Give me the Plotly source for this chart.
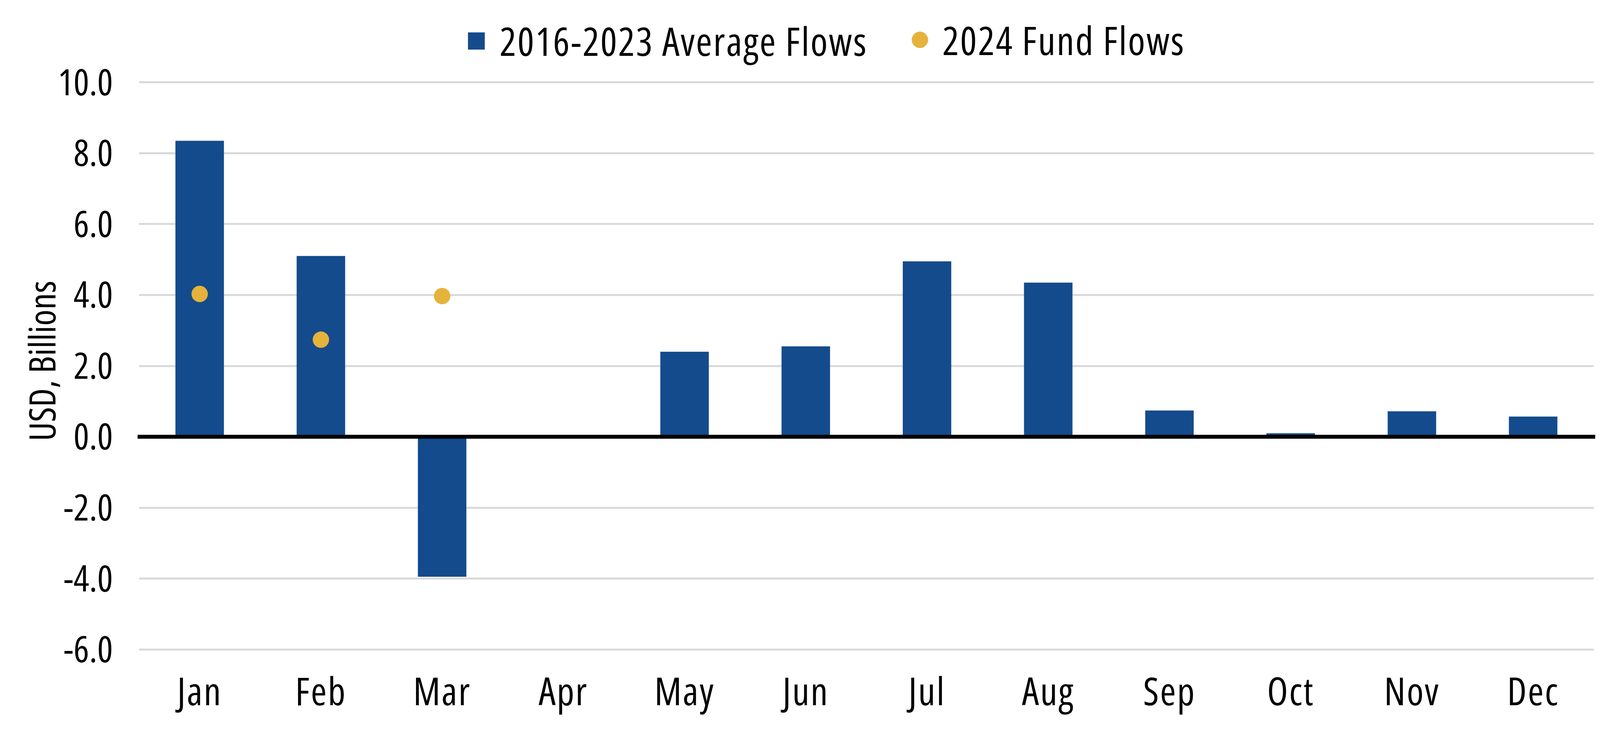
import plotly.graph_objects as go

months = ["Jan", "Feb", "Mar", "Apr", "May", "Jun", "Jul", "Aug", "Sep", "Oct", "Nov", "Dec"]
avg_flows_2016_2023 = [8.35, 5.1, -3.95, 0.0, 2.4, 2.55, 4.95, 4.35, 0.74, 0.1, 0.72, 0.57]
fund_flows_2024_months = ["Jan", "Feb", "Mar"]
fund_flows_2024 = [4.03, 2.74, 3.97]
y_tick_vals = [-6, -4, -2, 0, 2, 4, 6, 8, 10]
y_tick_text = ["-6.0", "-4.0", "-2.0", "0.0", "2.0", "4.0", "6.0", "8.0", "10.0"]
series_names = ["2016-2023 Average Flows", "2024 Fund Flows"]
y_title = "USD, Billions"

BLUE = "#144B8C"
GOLD = "#E5B33B"
GRID = "#D9D9D9"
FONT = "Open Sans, DejaVu Sans Condensed, sans-serif"
FS = 94

W, H = 4167, 1872
L, R, T, B = 356, 87, 209, 207
PW, PH = W - L - R, H - T - B


def px(x):
    return (x - L) / PW


def py(y):
    return (H - B - y) / PH


fig = go.Figure()
fig.add_trace(go.Bar(
    x=months, y=avg_flows_2016_2023, name=series_names[0],
    marker=dict(color=BLUE, line=dict(width=0)), showlegend=False,
))
fig.add_trace(go.Scatter(
    x=fund_flows_2024_months, y=fund_flows_2024, name=series_names[1],
    mode="markers", marker=dict(color=GOLD, size=42, line=dict(width=0)), showlegend=False,
))

shapes = [
    # zero line drawn above the bars
    dict(type="line", xref="paper", yref="y", x0=-0.001, x1=1.001, y0=0, y1=0,
         line=dict(color="black", width=10), layer="above"),
    # legend swatches
    dict(type="rect", xref="paper", yref="paper", x0=px(1198), x1=px(1241), y0=py(127), y1=py(83),
         fillcolor=BLUE, line=dict(width=0)),
    dict(type="circle", xref="paper", yref="paper", x0=px(2334), x1=px(2376), y0=py(123), y1=py(81),
         fillcolor=GOLD, line=dict(width=0)),
]
annotations = [
    dict(text=series_names[0], xref="paper", yref="paper", x=px(1750), y=py(104),
         xanchor="center", yanchor="middle", showarrow=False, font=dict(family=FONT, size=100, color="black")),
    dict(text=series_names[1], xref="paper", yref="paper", x=px(2723), y=py(102),
         xanchor="center", yanchor="middle", showarrow=False, font=dict(family=FONT, size=100, color="black")),
    dict(text=y_title, xref="paper", yref="paper", x=px(106), y=py(924), textangle=-90,
         xanchor="center", yanchor="middle", showarrow=False, font=dict(family=FONT, size=FS, color="black")),
]

fig.update_layout(
    width=W, height=H,
    margin=dict(l=L, r=R, t=T, b=B, pad=0, autoexpand=False),
    paper_bgcolor="white", plot_bgcolor="white",
    bargap=0.6,
    showlegend=False,
    font=dict(family=FONT, size=FS, color="black"),
    shapes=shapes, annotations=annotations,
)
fig.update_xaxes(
    type="category", categoryorder="array", categoryarray=months, range=[-0.5, 11.5], automargin=False,
    showgrid=False, showline=False, zeroline=False, ticks="",
    tickfont=dict(family=FONT, size=98, color="black"),
    ticklabelstandoff=42,
)
fig.update_yaxes(
    range=[-6.02, 10.02], tickvals=y_tick_vals, ticktext=y_tick_text, automargin=False,
    showgrid=True, gridcolor=GRID, gridwidth=5,
    zeroline=False, showline=False, ticks="",
    tickfont=dict(family=FONT, size=FS, color="black"),
    ticklabelstandoff=66,
)

css = ("text{font-stretch:80% !important;}"
       '.annotation[data-index="0"] text,.annotation[data-index="1"] text,.xtick text'
       "{letter-spacing:3px !important;}")
post = ("document.body.style.margin='0px';"
        "var s=document.createElement('style');s.textContent=" + repr(css) + ";document.head.appendChild(s);")
fig.write_html("out.html", config={"displayModeBar": False}, post_script=post)
